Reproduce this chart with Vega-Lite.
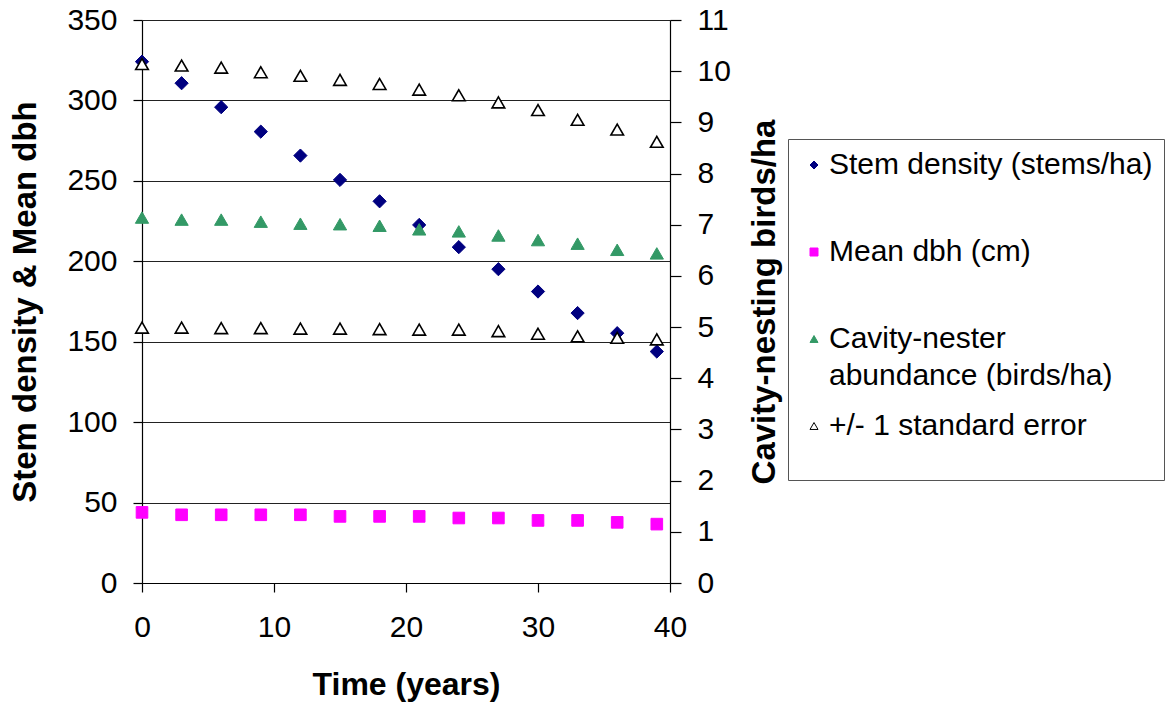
{
  "$schema": "https://vega.github.io/schema/vega-lite/v6.json",
  "width": 528,
  "height": 563,
  "autosize": {"type": "none"},
  "padding": {"left": 142, "top": 20, "right": 504, "bottom": 121},
  "background": "white",
  "config": {
    "font": "Liberation Sans",
    "view": {"stroke": null},
    "style": {"guide-label": {"lineHeight": 37}},
    "axis": {
      "labelFont": "Liberation Sans",
      "titleFont": "Liberation Sans",
      "labelColor": "black",
      "titleColor": "black",
      "domainColor": "black",
      "tickColor": "black",
      "domainWidth": 1.2,
      "tickWidth": 1.2,
      "labelFontSize": 30,
      "titleFontSize": 32,
      "titleFontWeight": "bold"
    },
    "legend": {
      "labelFont": "Liberation Sans",
      "labelFontSize": 30,
      "labelColor": "black",
      "labelLimit": 0,
      "labelOffset": 0,
      "symbolSize": 64,
      "symbolStrokeWidth": 1,
      "rowPadding": 20,
      "padding": 11,
      "gridAlign": "all",
      "titleOrient": "bottom",
      "titleFontSize": 24,
      "titlePadding": 4,
      "strokeColor": "#555",
      "fillColor": "white",
      "cornerRadius": 0
    }
  },
  "data": {
    "values": [
      {"time": 0, "series": "Stem density (stems/ha)", "value": 324.1},
      {"time": 3, "series": "Stem density (stems/ha)", "value": 310.7},
      {"time": 6, "series": "Stem density (stems/ha)", "value": 295.8},
      {"time": 9, "series": "Stem density (stems/ha)", "value": 280.6},
      {"time": 12, "series": "Stem density (stems/ha)", "value": 265.7},
      {"time": 15, "series": "Stem density (stems/ha)", "value": 250.6},
      {"time": 18, "series": "Stem density (stems/ha)", "value": 237.3},
      {"time": 21, "series": "Stem density (stems/ha)", "value": 222.6},
      {"time": 24, "series": "Stem density (stems/ha)", "value": 208.8},
      {"time": 27, "series": "Stem density (stems/ha)", "value": 195.1},
      {"time": 30, "series": "Stem density (stems/ha)", "value": 181.2},
      {"time": 33, "series": "Stem density (stems/ha)", "value": 167.8},
      {"time": 36, "series": "Stem density (stems/ha)", "value": 155.3},
      {"time": 39, "series": "Stem density (stems/ha)", "value": 143.9},
      {"time": 0, "series": "Mean dbh (cm)", "value": 43.9},
      {"time": 3, "series": "Mean dbh (cm)", "value": 42.4},
      {"time": 6, "series": "Mean dbh (cm)", "value": 42.4},
      {"time": 9, "series": "Mean dbh (cm)", "value": 42.4},
      {"time": 12, "series": "Mean dbh (cm)", "value": 42.4},
      {"time": 15, "series": "Mean dbh (cm)", "value": 41.4},
      {"time": 18, "series": "Mean dbh (cm)", "value": 41.4},
      {"time": 21, "series": "Mean dbh (cm)", "value": 41.4},
      {"time": 24, "series": "Mean dbh (cm)", "value": 40.4},
      {"time": 27, "series": "Mean dbh (cm)", "value": 40.4},
      {"time": 30, "series": "Mean dbh (cm)", "value": 38.9},
      {"time": 33, "series": "Mean dbh (cm)", "value": 38.9},
      {"time": 36, "series": "Mean dbh (cm)", "value": 37.7},
      {"time": 39, "series": "Mean dbh (cm)", "value": 36.6},
      {"time": 0, "series": "Cavity-nester abundance (birds/ha)", "value": 7.14},
      {"time": 3, "series": "Cavity-nester abundance (birds/ha)", "value": 7.10},
      {"time": 6, "series": "Cavity-nester abundance (birds/ha)", "value": 7.10},
      {"time": 9, "series": "Cavity-nester abundance (birds/ha)", "value": 7.06},
      {"time": 12, "series": "Cavity-nester abundance (birds/ha)", "value": 7.02},
      {"time": 15, "series": "Cavity-nester abundance (birds/ha)", "value": 7.01},
      {"time": 18, "series": "Cavity-nester abundance (birds/ha)", "value": 6.98},
      {"time": 21, "series": "Cavity-nester abundance (birds/ha)", "value": 6.91},
      {"time": 24, "series": "Cavity-nester abundance (birds/ha)", "value": 6.87},
      {"time": 27, "series": "Cavity-nester abundance (birds/ha)", "value": 6.79},
      {"time": 30, "series": "Cavity-nester abundance (birds/ha)", "value": 6.70},
      {"time": 33, "series": "Cavity-nester abundance (birds/ha)", "value": 6.63},
      {"time": 36, "series": "Cavity-nester abundance (birds/ha)", "value": 6.51},
      {"time": 39, "series": "Cavity-nester abundance (birds/ha)", "value": 6.44},
      {"time": 0, "series": "+/- 1 standard error", "value": 10.14},
      {"time": 3, "series": "+/- 1 standard error", "value": 10.11},
      {"time": 6, "series": "+/- 1 standard error", "value": 10.07},
      {"time": 9, "series": "+/- 1 standard error", "value": 9.98},
      {"time": 12, "series": "+/- 1 standard error", "value": 9.91},
      {"time": 15, "series": "+/- 1 standard error", "value": 9.83},
      {"time": 18, "series": "+/- 1 standard error", "value": 9.75},
      {"time": 21, "series": "+/- 1 standard error", "value": 9.64},
      {"time": 24, "series": "+/- 1 standard error", "value": 9.53},
      {"time": 27, "series": "+/- 1 standard error", "value": 9.39},
      {"time": 30, "series": "+/- 1 standard error", "value": 9.24},
      {"time": 33, "series": "+/- 1 standard error", "value": 9.05},
      {"time": 36, "series": "+/- 1 standard error", "value": 8.86},
      {"time": 39, "series": "+/- 1 standard error", "value": 8.62},
      {"time": 0, "series": "+/- 1 standard error", "value": 4.99},
      {"time": 3, "series": "+/- 1 standard error", "value": 4.99},
      {"time": 6, "series": "+/- 1 standard error", "value": 4.98},
      {"time": 9, "series": "+/- 1 standard error", "value": 4.98},
      {"time": 12, "series": "+/- 1 standard error", "value": 4.97},
      {"time": 15, "series": "+/- 1 standard error", "value": 4.97},
      {"time": 18, "series": "+/- 1 standard error", "value": 4.96},
      {"time": 21, "series": "+/- 1 standard error", "value": 4.95},
      {"time": 24, "series": "+/- 1 standard error", "value": 4.95},
      {"time": 27, "series": "+/- 1 standard error", "value": 4.92},
      {"time": 30, "series": "+/- 1 standard error", "value": 4.87},
      {"time": 33, "series": "+/- 1 standard error", "value": 4.82},
      {"time": 36, "series": "+/- 1 standard error", "value": 4.79},
      {"time": 39, "series": "+/- 1 standard error", "value": 4.76}
    ]
  },
  "encoding": {
    "x": {
      "field": "time",
      "type": "quantitative",
      "scale": {"domain": [0, 40], "nice": false},
      "axis": {
        "values": [0, 10, 20, 30, 40],
        "grid": false,
        "tickSize": 9,
        "labelFlush": false,
        "labelPadding": 20,
        "title": "Time (years)",
        "titlePadding": 27
      }
    },
    "shape": {
      "field": "series",
      "type": "nominal",
      "scale": {
        "domain": ["Stem density (stems/ha)", "Mean dbh (cm)", "Cavity-nester abundance (birds/ha)", "+/- 1 standard error"],
        "range": ["diamond", "square", "triangle-up", "triangle-up"]
      },
      "legend": {
        "title": " ",
        "orient": "none",
        "legendX": 646,
        "legendY": 119,
        "labelExpr": "datum.label == 'Cavity-nester abundance (birds/ha)' ? ['Cavity-nester', 'abundance (birds/ha)'] : datum.label"
      }
    },
    "fill": {
      "field": "series",
      "type": "nominal",
      "scale": {
        "domain": ["Stem density (stems/ha)", "Mean dbh (cm)", "Cavity-nester abundance (birds/ha)", "+/- 1 standard error"],
        "range": ["#000080", "#FF00FF", "#339966", "#FFFFFF"]
      },
      "legend": {
        "title": " ",
        "orient": "none",
        "legendX": 646,
        "legendY": 119,
        "labelExpr": "datum.label == 'Cavity-nester abundance (birds/ha)' ? ['Cavity-nester', 'abundance (birds/ha)'] : datum.label"
      }
    },
    "stroke": {
      "field": "series",
      "type": "nominal",
      "scale": {
        "domain": ["Stem density (stems/ha)", "Mean dbh (cm)", "Cavity-nester abundance (birds/ha)", "+/- 1 standard error"],
        "range": ["#000080", "#FF00FF", "#339966", "#000000"]
      },
      "legend": {
        "title": " ",
        "orient": "none",
        "legendX": 646,
        "legendY": 119,
        "labelExpr": "datum.label == 'Cavity-nester abundance (birds/ha)' ? ['Cavity-nester', 'abundance (birds/ha)'] : datum.label"
      }
    }
  },
  "layer": [
    {
      "encoding": {
        "y": {
          "field": "value",
          "type": "quantitative",
          "scale": {"domain": [0, 350], "nice": false},
          "axis": {
            "orient": "left",
            "values": [0, 50, 100, 150, 200, 250, 300, 350],
            "grid": true,
            "gridColor": "#222",
            "gridWidth": 1.2,
            "tickSize": 9,
            "labelPadding": 16,
            "title": "Stem density & Mean dbh",
            "titleFontSize": 33,
            "titlePadding": 24
          }
        }
      },
      "layer": [
        {
          "transform": [{"filter": {"field": "series", "equal": "Stem density (stems/ha)"}}],
          "mark": {"type": "point", "filled": true, "size": 175, "strokeWidth": 1, "opacity": 1}
        },
        {
          "transform": [{"filter": {"field": "series", "equal": "Mean dbh (cm)"}}],
          "mark": {"type": "point", "filled": true, "size": 135, "strokeWidth": 1, "opacity": 1}
        }
      ]
    },
    {
      "encoding": {
        "y": {
          "field": "value",
          "type": "quantitative",
          "scale": {"domain": [0, 11], "nice": false},
          "axis": {
            "orient": "right",
            "values": [0, 1, 2, 3, 4, 5, 6, 7, 8, 9, 10, 11],
            "grid": false,
            "tickSize": 11,
            "labelPadding": 16,
            "labelAlign": "left",
            "title": "Cavity-nesting birds/ha",
            "titleFontSize": 33,
            "titleAngle": 270,
            "titlePadding": 51
          }
        }
      },
      "layer": [
        {
          "transform": [{"filter": {"field": "series", "equal": "Cavity-nester abundance (birds/ha)"}}],
          "mark": {"type": "point", "filled": true, "size": 175, "strokeWidth": 1, "opacity": 1}
        },
        {
          "transform": [{"filter": {"field": "series", "equal": "+/- 1 standard error"}}],
          "mark": {"type": "point", "filled": true, "size": 160, "strokeWidth": 1.6, "opacity": 1}
        }
      ]
    }
  ],
  "resolve": {"scale": {"y": "independent"}}
}
